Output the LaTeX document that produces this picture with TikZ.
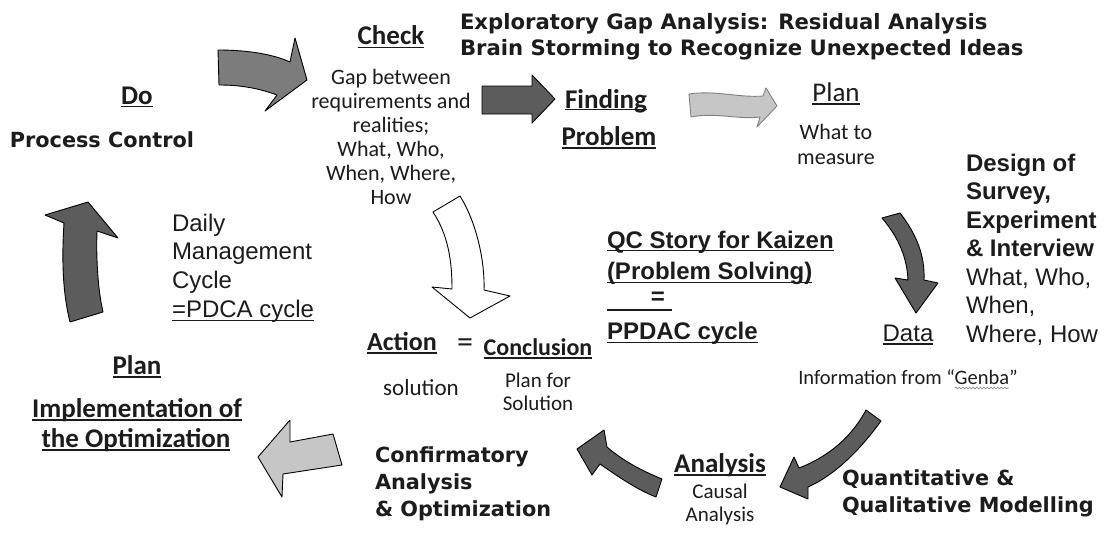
\documentclass[tikz,border=0pt]{standalone}
\usepackage{fontspec}
\setmainfont{Carlito}
\newfontfamily\vfont{DejaVu Sans}
\newfontfamily\afont{Liberation Sans}
\usetikzlibrary{decorations.pathmorphing}
\definecolor{arrdark}{HTML}{5C5C5C}
\definecolor{arrmid}{HTML}{7C7C7C}
\definecolor{arrlight}{HTML}{C6C6C6}
\definecolor{txt}{HTML}{1C1C1C}
\tikzset{
  lbl/.style={inner sep=0pt, outer sep=0pt, text=txt},
  hd/.style={lbl, font=\fontsize{27}{30}\selectfont\bfseries},
  hdb/.style={lbl, font=\fontsize{#1}{30}\selectfont\bfseries},
  sub/.style={lbl, font=\fontsize{22}{24}\selectfont, align=center},
  subs/.style={lbl, font=\fontsize{21}{23}\selectfont, align=center},
  vb/.style={lbl, font=\vfont\bfseries\fontsize{20.8}{27}\selectfont, align=left},
  vbs/.style={lbl, font=\vfont\bfseries\fontsize{21.2}{26}\selectfont, align=left},
  ar/.style={lbl, font=\afont\fontsize{24}{28.5}\selectfont, align=left},
  arb/.style={lbl, font=\afont\bfseries\fontsize{24}{28.5}\selectfont, align=left},
  blk/.style={draw=black, line width=0.9pt, line join=round},
  ul/.style={line width=1.3pt, draw=txt},
}
\newcommand\ulnode[2][2.5]{\draw[ul] ([yshift=-#1pt]#2.base west) -- ([yshift=-#1pt]#2.base east);}
\begin{document}
\begin{tikzpicture}[x=1pt,y=-1pt]
\useasboundingbox[fill=white] (0,0) rectangle (1109,538);

% ---------- block arrows ----------
% Do -> Check
\draw[blk, fill=arrmid] (218,50) .. controls (250,50) and (275,55) .. (290,62) -- (295,38) -- (307,80) -- (265,111) -- (277,95) .. controls (258,88) and (240,85) .. (219,85) -- cycle;
% Check -> Finding
\draw[blk, fill=arrdark] (482,86) -- (532,86) -- (532,75) -- (555,99) -- (532,123) -- (532,114) -- (482,114) -- cycle;
% Finding -> Plan
\draw[blk, draw=gray, fill=arrlight] (689,94) .. controls (715,90) and (740,98) .. (763,96) -- (766,88) -- (777,106) -- (757,127) -- (760,117) .. controls (740,120) and (715,112) .. (691,117) -- cycle;
% Plan -> Data
\draw[blk, fill=arrdark] (882,218) -- (900,213) .. controls (918,236) and (925,258) .. (924,280) -- (938,283) -- (916,313) -- (895,278) -- (908,280) .. controls (907,258) and (899,238) .. (882,218) -- cycle;
% Data -> Analysis
\draw[blk, fill=arrdark] (866,410) -- (881,421) .. controls (860,450) and (835,475) .. (808,487) -- (808,499) -- (780,487) -- (794,457) -- (799,468) .. controls (825,458) and (850,440) .. (866,410) -- cycle;
% Analysis -> Conclusion
\draw[blk, fill=arrdark] (662,479) .. controls (640,470) and (622,460) .. (607,447) -- (604,430) -- (577,449) -- (592,475) -- (600,464) .. controls (620,478) and (638,490) .. (656,497) -- cycle;
% -> Plan (implementation)
\draw[blk, fill=arrlight] (258,457) -- (290,420) -- (290,442) -- (333,434) -- (342,465) -- (283,474) -- (282,497) -- cycle;
% Plan -> Do (up)
\draw[blk, fill=arrdark] (88,202) -- (118,238) -- (97,231) .. controls (96,260) and (98,290) .. (103,312) -- (70,322) .. controls (62,290) and (62,255) .. (64,223) -- (45,215) -- cycle;
% white arrow Check -> Action
\draw[blk, fill=white] (433,212) -- (460,196) .. controls (478,225) and (485,265) .. (484,290) -- (510,296) -- (470,318) -- (432,287) -- (452,289) .. controls (452,260) and (448,235) .. (433,212) -- cycle;

% ---------- texts ----------
\node[hd, anchor=base] (do) at (137,104) {Do};
\ulnode{do}
\node[vb, anchor=base] (pc) at (102,147) {Process Control};

\node[hd, anchor=base] (check) at (391,45) {Check};
\ulnode{check}
\node[sub, anchor=north] (gap) at (391,69) {Gap between\\requirements and\\realities;\\What, Who,\\When, Where,\\How};

\node[hd, anchor=base] (find) at (606,108) {Finding};
\ulnode[1.5]{find}
\node[hd, anchor=base] (prob) at (609,145) {Problem};
\ulnode[3]{prob}

\node[lbl, font=\fontsize{27}{30}\selectfont, anchor=base] (plan1) at (836,101) {Plan};
\ulnode[3]{plan1}
\node[sub, anchor=north, font=\fontsize{22}{25}\selectfont] (meas) at (836,124) {What to\\measure};

\node[vbs, anchor=base west] (exp1) at (460,29) {Exploratory Gap Analysis: Residual Analysis};
\node[vbs, anchor=base west] (exp2) at (460,55) {Brain Storming to Recognize Unexpected Ideas};

\node[arb, anchor=north west] (design) at (966,154) {Design of\\Survey,\\Experiment\\\& Interview};
\node[ar, anchor=north west] (www) at (966,268) {What, Who,\\When,\\Where, How};

\node[ar, anchor=base] (data) at (908,341) {Data};
\ulnode[3]{data}
\node[lbl, font=\fontsize{20.5}{24}\selectfont, anchor=base] (info) at (908,384) {Information from “Genba”};
\draw[gray, line width=0.6pt, decorate, decoration={snake, amplitude=0.9pt, segment length=3.5pt}]
  ([xshift=-63pt,yshift=-4pt]info.base east) -- ([xshift=-9pt,yshift=-4pt]info.base east);

\node[arb, anchor=base west] (qc1) at (607,248) {QC Story for Kaizen};
\ulnode[2.5]{qc1}
\node[arb, anchor=base west] (qc2) at (607,279) {(Problem Solving)};
\ulnode[3.5]{qc2}
\node[arb, anchor=base] (qceq) at (658,304) {=};
\coordinate (eqa) at (607,310);
\coordinate (eqb) at (672,310);
\draw[ul] (eqa) -- (eqb);
\node[arb, anchor=base west] (qc3) at (607,339) {PPDAC cycle};
\ulnode[3.5]{qc3}

\node[ar, anchor=north west] (daily) at (172,214) {Daily\\Management\\Cycle};
\node[ar, anchor=base west] (pdca) at (172,317) {=PDCA cycle};
\ulnode[3.5]{pdca}

\node[hdb=26, anchor=base] (action) at (402,350) {Action};
\ulnode[3]{action}
\node[lbl, font=\fontsize{32}{32}\selectfont, anchor=base] (eq) at (465,352) {=};
\node[hdb=24, anchor=base] (concl) at (538,355) {Conclusion};
\ulnode[3]{concl}
\node[lbl, font=\fontsize{23}{26}\selectfont, anchor=base] (sol) at (421,395) {solution};
\node[subs, anchor=north] (pfs) at (538,373) {Plan for\\Solution};

\node[vb, anchor=north west] (conf) at (375,447) {Confirmatory\\Analysis\\\& Optimization};

\node[hd, anchor=base] (anal) at (720,472) {Analysis};
\ulnode[3]{anal}
\node[subs, anchor=north] (causal) at (720,484) {Causal\\Analysis};

\node[vb, anchor=north west] (quant) at (842,470) {Quantitative \&\\Qualitative Modelling};

\node[hd, anchor=base] (plan2) at (137,374) {Plan};
\ulnode[3]{plan2}
\node[hd, anchor=base] (impl) at (137,417) {Implementation of};
\ulnode[3]{impl}
\node[hd, anchor=base] (opt) at (136,447) {the Optimization};
\ulnode[3]{opt}
\end{tikzpicture}
\end{document}
